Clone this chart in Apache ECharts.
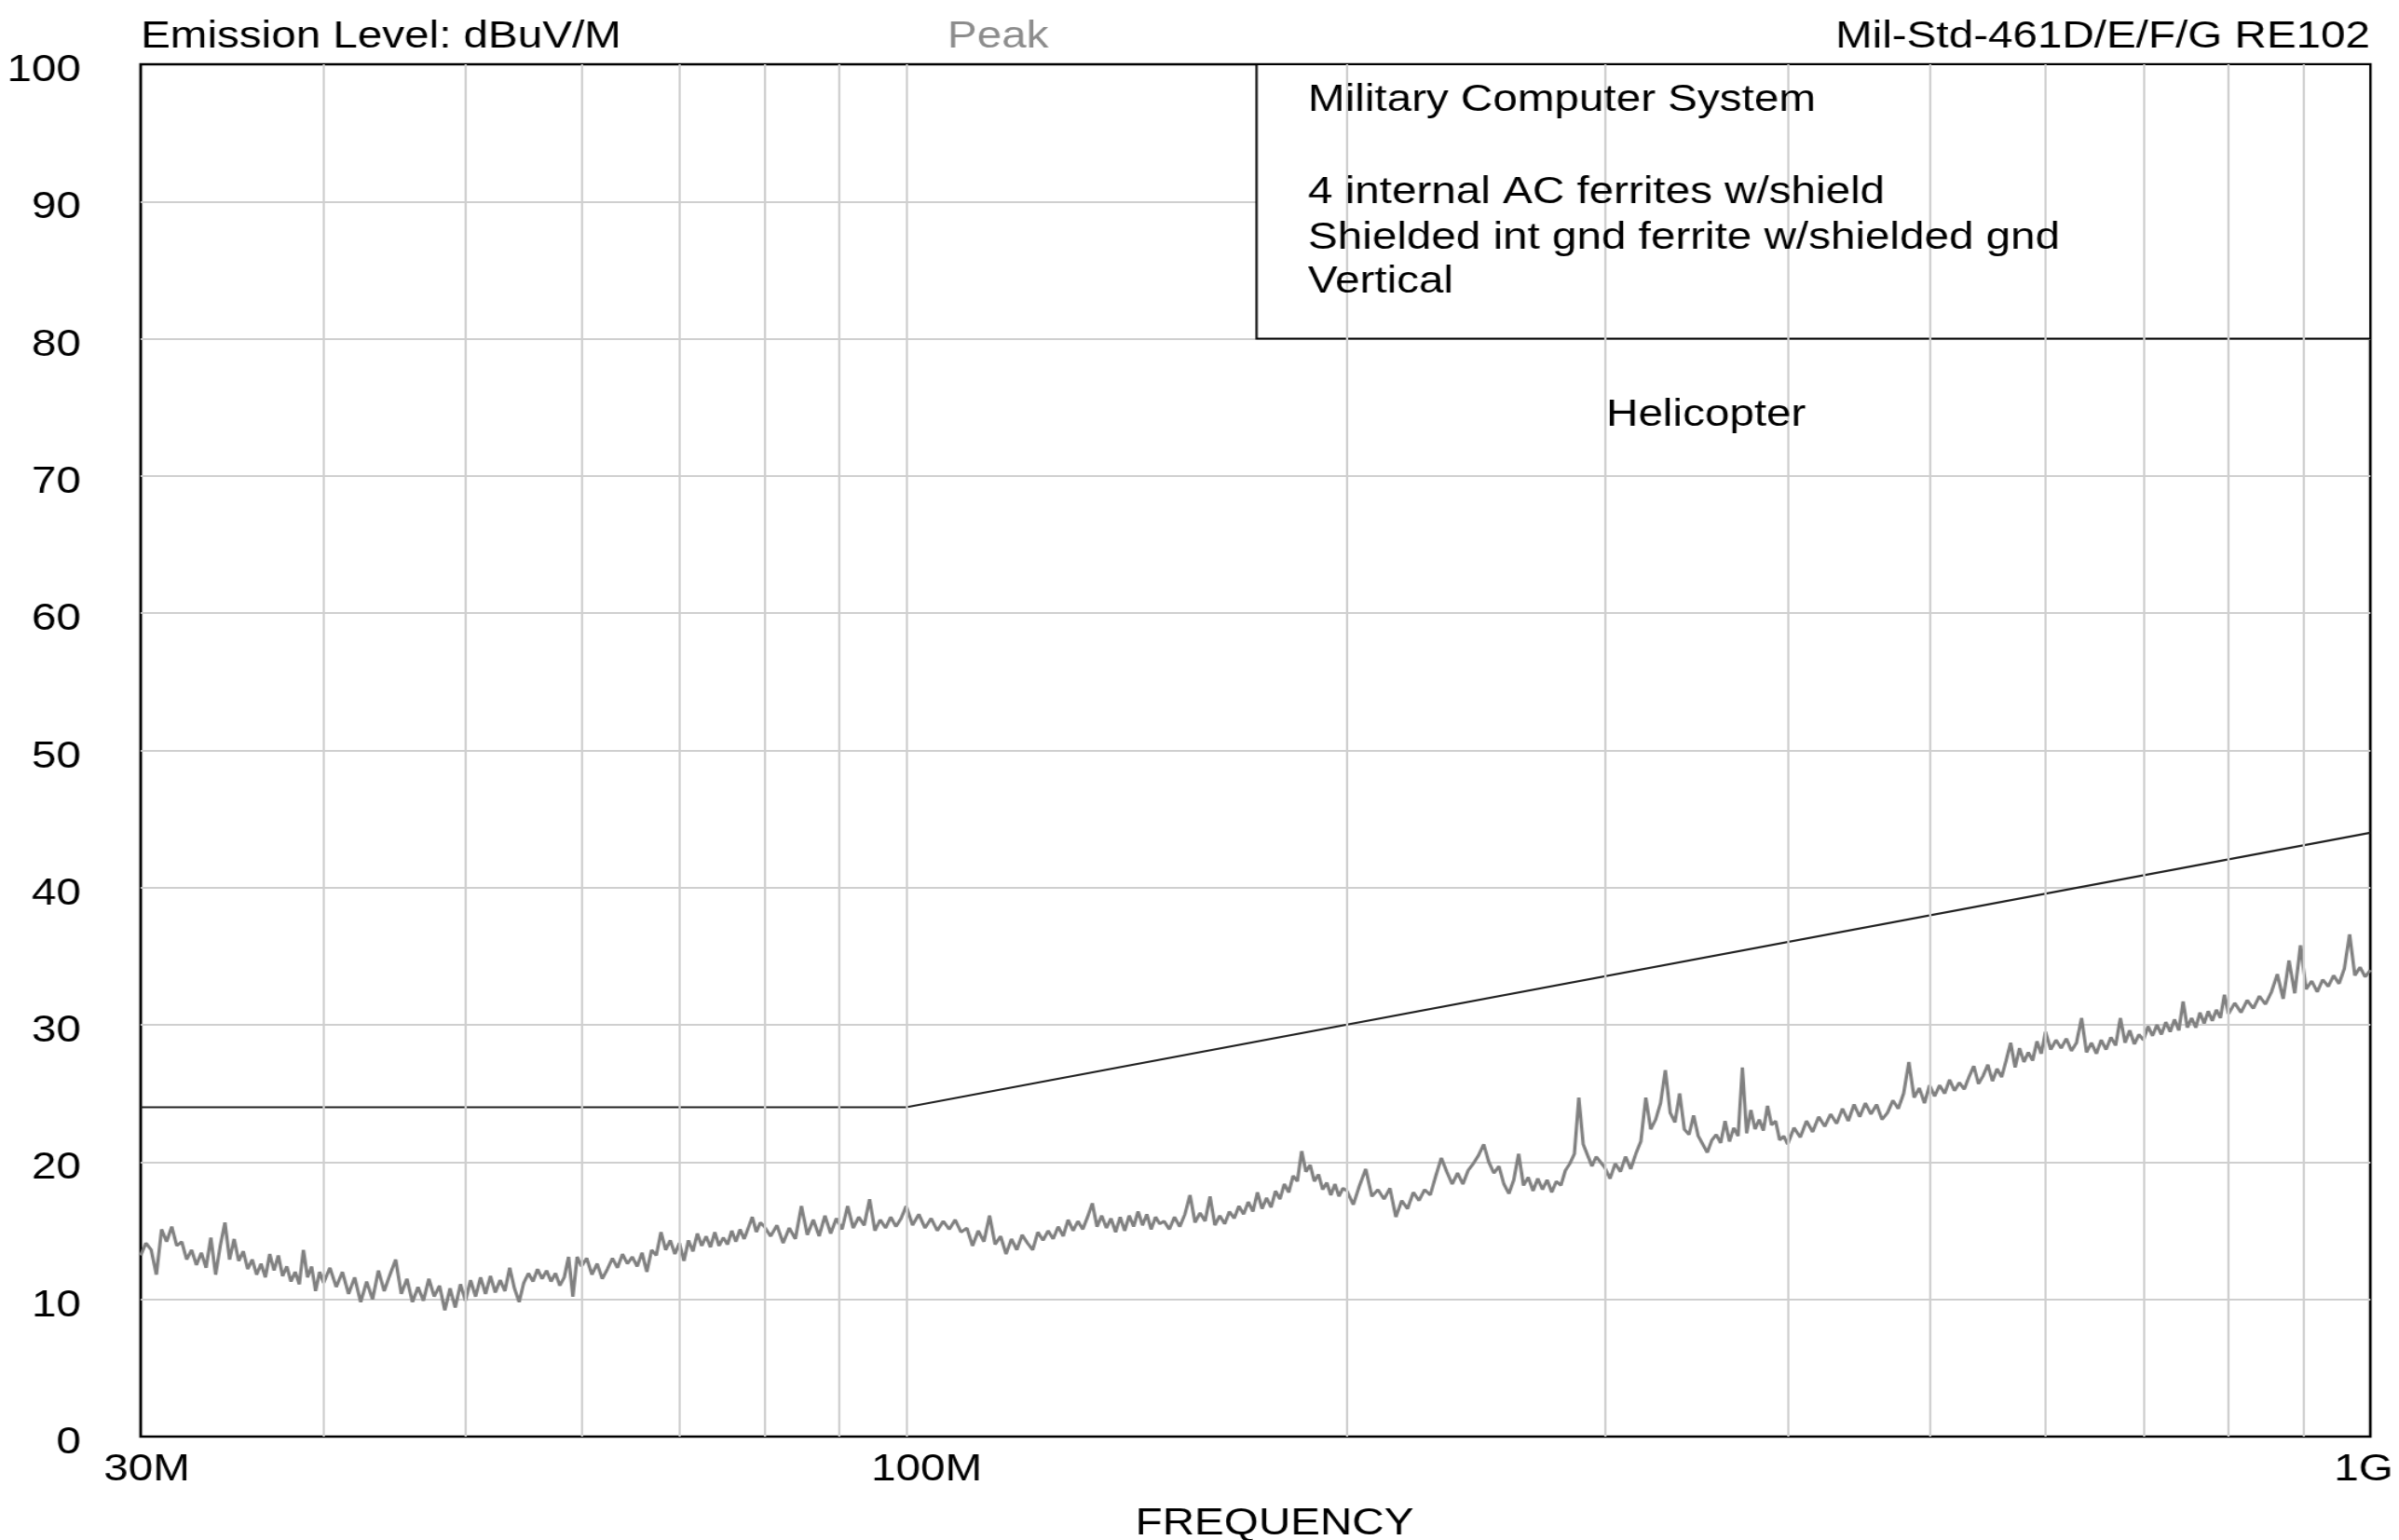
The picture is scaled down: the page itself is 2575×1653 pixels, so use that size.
<!DOCTYPE html>
<html>
<head>
<meta charset="utf-8">
<title>RE102 emission scan</title>
<script src="https://cdn.jsdelivr.net/npm/echarts@6.0.0/dist/echarts.min.js"></script>
<style>
  html, body { margin: 0; padding: 0; background: #fff; overflow: hidden; }
  /* the original plot bitmap is stretched sideways, so the chart is drawn narrower and scaled */
  #chart { width: 2164px; height: 1653px; transform: scaleX(1.19); transform-origin: 0 0; }
</style>
</head>
<body>
<div id="chart"></div>
<script>
// ---- data (MHz / dBuV/M) ----
const xTickValues = [30, 100, 1000];
const xTickLabels = ['30M', '100M', '1G'];
const gridFreqs = [40, 50, 60, 70, 80, 90, 100, 200, 300, 400, 500, 600, 700, 800, 900];

const limitFreqs = [30, 100, 1000];
const limitLevels = [24, 24, 44];

const freqA = [30,30.25,30.5,30.75,31,31.25,31.5,31.75,32,32.25,32.5,32.75,33,33.25,33.5,33.75,34,34.25,34.5,34.75,35,35.25,35.5,35.75,36,36.25,36.5,36.75,37,37.25,37.5,37.75,38,38.25,38.5,38.75,39,39.25,39.5,39.75];
const levelA = [13.2,14.1,13.6,11.8,15.1,14.2,15.3,13.9,14.2,12.9,13.6,12.5,13.4,12.3,14.5,11.8,13.9,15.6,12.9,14.4,12.8,13.5,12.2,12.9,11.8,12.6,11.6,13.3,12.1,13.2,11.7,12.4,11.3,12.0,11.1,13.6,11.6,12.4,10.6,12.0];

const freqB = [40,40.4,40.8,41.2,41.6,42,42.4,42.8,43.2,43.6,44,44.4,44.8,45.2,45.6,46,46.4,46.8,47.2,47.6,48,48.4,48.8,49.2,49.6,50,50.4,50.8,51.2,51.6,52,52.4,52.8,53.2,53.6,54,54.4,54.8,55.2,55.6,56,56.4,56.8,57.2,57.6,58,58.4,58.8,59.2,59.6];
const levelB = [11.2,12.3,10.9,12.0,10.4,11.6,9.8,11.3,10.0,12.1,10.6,11.8,12.9,10.4,11.5,9.8,10.9,9.9,11.5,10.2,11.0,9.2,10.8,9.4,11.1,9.9,11.4,10.2,11.6,10.4,11.7,10.5,11.4,10.6,12.3,10.8,9.8,11.2,11.9,11.3,12.2,11.5,12.1,11.3,11.9,11.0,11.6,13.1,10.2,13.1];

const freqC = [60,60.5,61,61.5,62,62.5,63,63.5,64,64.5,65,65.5,66,66.5,67,67.5,68,68.5,69,69.5,70,70.5,71,71.5,72,72.5,73,73.5,74,74.5,75,75.5,76,76.5,77,77.5,78,78.5,79,79.5];
const levelC = [12.4,13.0,11.8,12.6,11.5,12.2,13.0,12.3,13.3,12.6,13.1,12.4,13.4,12.0,13.6,13.2,14.9,13.6,14.3,13.3,14.1,12.8,14.3,13.5,14.8,13.9,14.6,13.8,14.9,13.9,14.5,14.0,15.0,14.2,15.1,14.4,15.2,16.0,14.9,15.6];

const freqD = [80,80.8,81.6,82.4,83.2,84,84.8,85.6,86.4,87.2,88,88.8,89.6,90.4,91.2,92,92.8,93.6,94.4,95.2,96,96.8,97.6,98.4,99.2];
const levelD = [15.3,14.6,15.4,14.1,15.2,14.4,16.8,14.7,15.8,14.6,16.1,14.8,15.9,15.1,16.8,15.2,16.0,15.4,17.3,15.0,15.8,15.2,16.0,15.3,15.9];

const freqE = [100,101,102,103,104,105,106,107,108,109,110,111,112,113,114,115,116,117,118,119,120,121,122,123,124,125,126,127,128,129,130,131,132,133,134,135,136,137,138,139,140,141,142,143,144,145,146,147,148,149];
const levelE = [16.8,15.4,16.2,15.2,15.9,15.0,15.7,15.1,15.8,14.9,15.2,13.9,15.0,14.2,16.1,14.0,14.6,13.3,14.4,13.6,14.7,14.1,13.6,14.9,14.3,15.0,14.4,15.3,14.6,15.8,15.0,15.7,15.1,16.0,17.0,15.3,16.1,15.2,15.9,14.9,16.0,15.0,16.1,15.3,16.4,15.4,16.2,15.1,16.0,15.5];

const freqF = [150,151.25,152.5,153.75,155,156.25,157.5,158.75,160,161.25,162.5,163.75,165,166.25,167.5,168.75,170,171.25,172.5,173.75,175,176.25,177.5,178.75,180,181.25,182.5,183.75,185,186.25,187.5,188.75,190,191.25,192.5,193.75,195,196.25,197.5,198.75];
const levelF = [15.7,15.1,16.0,15.3,16.2,17.6,15.6,16.3,15.7,17.5,15.4,16.1,15.5,16.4,15.9,16.8,16.2,17.1,16.4,17.8,16.6,17.4,16.7,17.9,17.3,18.4,17.8,19.0,18.6,20.8,19.3,19.8,18.6,19.1,18.0,18.5,17.6,18.4,17.5,18.1];

const freqG = [200,202,204,206,208,210,212,214,216,218,220,222,224,226,228,230,232,234,236,238,240,242,244,246,248,250,252,254,256,258,260,262,264,266,268,270,272,274,276,278,280,282,284,286,288,290,292,294,296,298];
const levelG = [17.9,16.9,18.3,19.5,17.5,18.0,17.3,18.1,16.0,17.2,16.6,17.8,17.2,18.0,17.6,19.0,20.3,19.3,18.4,19.2,18.4,19.4,19.9,20.5,21.3,20.0,19.2,19.7,18.4,17.7,18.7,20.6,18.3,18.9,17.9,18.8,18.0,18.7,17.8,18.6,18.3,19.4,19.9,20.6,24.7,21.3,20.5,19.7,20.4,20.0];

const freqH = [300,302.5,305,307.5,310,312.5,315,317.5,320,322.5,325,327.5,330,332.5,335,337.5,340,342.5,345,347.5,350,352.5,355,357.5,360,362.5,365,367.5,370,372.5,375,377.5,380,382.5,385,387.5,390,392.5,395,397.5];
const levelH = [19.6,18.8,19.9,19.3,20.4,19.5,20.6,21.5,24.7,22.4,23.1,24.3,26.7,23.6,22.9,25.0,22.4,22.0,23.4,21.9,21.3,20.7,21.6,22.0,21.4,23.0,21.5,22.5,21.9,26.9,22.1,23.8,22.4,23.1,22.3,24.1,22.7,23.0,21.6,21.9];

const freqI = [400,404,408,412,416,420,424,428,432,436,440,444,448,452,456,460,464,468,472,476,480,484,488,492,496,500,504,508,512,516,520,524,528,532,536,540,544,548,552,556,560,564,568,572,576,580,584,588,592,596];
const levelI = [21.3,22.5,21.8,23.0,22.2,23.3,22.6,23.5,22.8,23.9,23.0,24.2,23.3,24.3,23.5,24.2,23.1,23.6,24.5,23.9,25.0,27.3,24.7,25.4,24.3,25.6,24.8,25.6,25.0,26.0,25.2,25.8,25.3,26.2,27.0,25.7,26.3,27.1,25.9,26.8,26.2,27.4,28.7,26.9,28.3,27.3,28.0,27.4,28.8,27.9];

const freqJ = [600,605,610,615,620,625,630,635,640,645,650,655,660,665,670,675,680,685,690,695,700,705,710,715,720,725,730,735,740,745,750,755,760,765,770,775,780,785,790,795];
const levelJ = [29.5,28.2,28.9,28.3,29.0,28.1,28.7,30.5,28.0,28.7,27.9,28.9,28.2,29.1,28.5,30.5,28.7,29.6,28.6,29.3,28.9,29.9,29.2,30.0,29.3,30.2,29.5,30.4,29.6,31.7,29.8,30.5,29.8,30.9,30.1,31.0,30.3,31.1,30.5,32.2];

const freqK = [800,808,816,824,832,840,848,856,864,872,880,888,896,904,912,920,928,936,944,952,960,968,976,984,992,1000];
const levelK = [30.8,31.6,30.9,31.8,31.2,32.1,31.5,32.4,33.7,31.9,34.7,32.3,35.8,32.6,33.2,32.4,33.3,32.8,33.6,33.0,34.1,36.6,33.6,34.2,33.5,34.0];

const legendLines = ['Military Computer System', '4 internal AC ferrites w/shield', 'Shielded int gnd ferrite w/shielded gnd', 'Vertical'];
const legendBox = [173.5, 1000, 80, 100]; // f from, f to, dB from, dB to

// ---- build series data ----
const freqs = [].concat(freqA, freqB, freqC, freqD, freqE, freqF, freqG, freqH, freqI, freqJ, freqK);
const levels = [].concat(levelA, levelB, levelC, levelD, levelE, levelF, levelG, levelH, levelI, levelJ, levelK);
const traceData = freqs.map((f, i) => [f, levels[i]]);
const limitData = limitFreqs.map((f, i) => [f, limitLevels[i]]);

const SX = 1.19;
const px = x => x / SX;
const FS = 40;
const FONT = '"Liberation Sans", Arial, sans-serif';
const font = size => size + 'px ' + FONT;

const chart = echarts.init(document.getElementById('chart'));

function textEl(str, x, y, opts) {
    return {
        type: 'text',
        x: x,
        y: y,
        z: 100,
        silent: true,
        style: Object.assign({
            text: str,
            font: font(FS),
            fill: '#000',
            align: 'left',
            verticalAlign: 'middle'
        }, opts || {})
    };
}

const graphics = [
    textEl('Emission Level: dBuV/M', px(151), 40),
    textEl('Peak', px(1017), 40, {fill: '#8c8c8c'}),
    textEl('Mil-Std-461D/E/F/G RE102', px(2544), 40, {align: 'right'}),
    textEl('Helicopter', px(1724), 446),
    textEl('FREQUENCY', px(1368), 1636, {align: 'center'})
];
const legendY = [108, 207, 256, 303];
legendLines.forEach((t, i) => graphics.push(textEl(t, px(1404), legendY[i])));

chart.setOption({
    animation: false,
    backgroundColor: '#fff',
    textStyle: {fontFamily: FONT},
    grid: {
        left: px(151),
        right: px(2575 - 2544),
        top: 69,
        bottom: 1653 - 1542,
        show: true,
        backgroundColor: '#fff',
        borderColor: '#000',
        borderWidth: 2.5,
        containLabel: false,
        outerBoundsMode: 'none'
    },
    xAxis: {
        type: 'log',
        logBase: 10,
        min: 30,
        max: 1000,
        axisLine: {show: false},
        axisTick: {show: false},
        splitLine: {show: false},
        minorTick: {show: false},
        minorSplitLine: {show: false},
        axisLabel: {
            showMinLabel: true,
            showMaxLabel: true,
            margin: 16,
            formatter: v => {
                const i = xTickValues.findIndex(t => Math.abs(Math.log10(v) - Math.log10(t)) < 0.005);
                return i < 0 ? '' : '{' + 'abc'[i] + '|' + xTickLabels[i] + '}';
            },
            rich: {
                a: {fontSize: FS, color: '#000', fontFamily: FONT, padding: [0, 0, 0, 11]},
                b: {fontSize: FS, color: '#000', fontFamily: FONT, padding: [0, 0, 0, 37]},
                c: {fontSize: FS, color: '#000', fontFamily: FONT, padding: [0, 12, 0, 0]}
            }
        }
    },
    yAxis: {
        type: 'value',
        min: 0,
        max: 100,
        interval: 10,
        axisLine: {show: false},
        axisTick: {show: false},
        splitLine: {
            show: true,
            showMinLine: false,
            showMaxLine: false,
            lineStyle: {color: '#cfcfcf', width: 2}
        },
        axisLabel: {
            margin: px(151) - px(87),
            formatter: v => '{v|' + v + '}',
            rich: {
                v: {fontSize: FS, color: '#000', fontFamily: FONT, padding: [14, 0, 0, 0]}
            }
        }
    },
    graphic: graphics,
    series: [
        {
            // vertical grid at the 1-2-3... decade steps
            type: 'line',
            data: [],
            z: 1,
            silent: true,
            markLine: {
                silent: true,
                symbol: ['none', 'none'],
                label: {show: false},
                lineStyle: {color: '#cfcfcf', width: 2, type: 'solid'},
                data: gridFreqs.map(f => ({xAxis: f}))
            }
        },
        {
            // white caption box in the corner
            type: 'line',
            data: [],
            z: 2,
            silent: true,
            markArea: {
                silent: true,
                itemStyle: {color: '#fff', borderColor: '#000', borderWidth: 2},
                data: [[{xAxis: legendBox[0], yAxis: legendBox[2]}, {xAxis: legendBox[1], yAxis: legendBox[3]}]]
            }
        },
        {
            name: 'Peak',
            type: 'line',
            data: traceData,
            z: 3,
            showSymbol: false,
            sampling: 'none',
            lineStyle: {color: '#808080', width: 3}
        },
        {
            name: 'Helicopter',
            type: 'line',
            data: limitData,
            z: 4,
            showSymbol: false,
            lineStyle: {color: '#222', width: 2.2}
        }
    ]
});
</script>
</body>
</html>
